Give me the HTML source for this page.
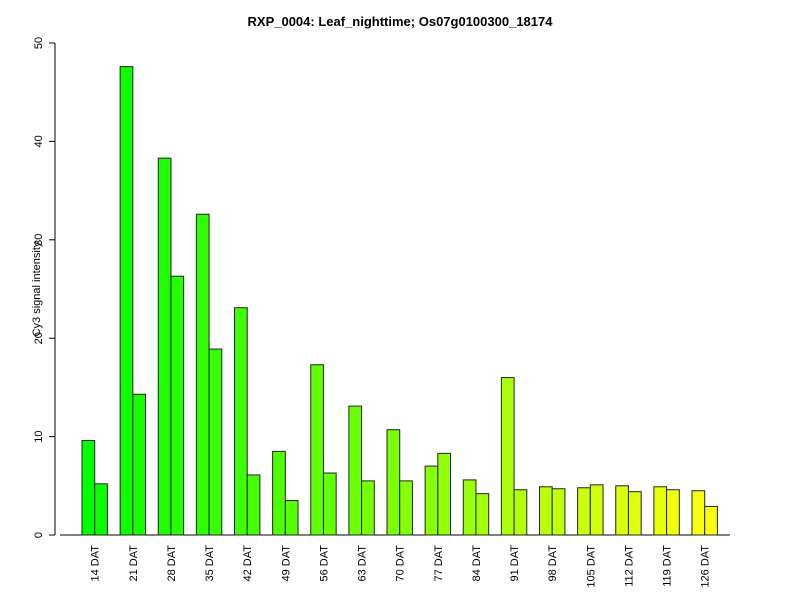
<!DOCTYPE html>
<html><head><meta charset="utf-8"><style>body{margin:0;background:#fff}svg{display:block;font-family:"Liberation Sans",sans-serif}</style></head>
<body>
<svg id="c" width="800" height="600">
<text x="400" y="26" text-anchor="middle" font-weight="bold" font-size="13">RXP_0004: Leaf_nighttime; Os07g0100300_18174</text>
<text transform="translate(40,289) rotate(-90)" text-anchor="middle" font-size="11">Cy3 signal intensity</text>
</svg>
<script>
const categories=["14 DAT","21 DAT","28 DAT","35 DAT","42 DAT","49 DAT","56 DAT","63 DAT","70 DAT","77 DAT","84 DAT","91 DAT","98 DAT","105 DAT","112 DAT","119 DAT","126 DAT"];
const series1=[9.6,47.6,38.3,32.6,23.1,8.5,17.3,13.1,10.7,7.0,5.6,16.0,4.9,4.8,5.0,4.9,4.5];
const series2=[5.2,14.3,26.3,18.9,6.1,3.5,6.3,5.5,5.5,8.3,4.2,4.6,4.7,5.1,4.4,4.6,2.9];
const yTicks=[0,10,20,30,40,50];
const svg=document.getElementById('c');const NS='http://www.w3.org/2000/svg';
function mk(t,a,p){const e=document.createElementNS(NS,t);for(const k in a)e.setAttribute(k,a[k]);(p||svg).appendChild(e);return e;}
const y0=535,y50=43;
function ys(v){return y0-(y0-y50)*v/50;}
const x0=82,step=38.125,w=step/3;
function xs(i,j){return x0+i*step+j*w;}
mk('line',{x1:60,x2:730,y1:y0,y2:y0,stroke:'#000'});
mk('line',{x1:55,x2:55,y1:ys(0),y2:ys(50),stroke:'#000'});
yTicks.forEach(t=>{
 const l=mk('line',{x1:49,x2:55,y1:ys(t),y2:ys(t),stroke:'#000'});
 
 
 const tx=mk('text',{transform:`translate(42,${ys(t)}) rotate(-90)`,'text-anchor':'middle','font-size':11});
 tx.textContent=t;
 
 
});
const n=categories.length*2;
categories.forEach((c,i)=>{
 [series1[i],series2[i]].forEach((v,j)=>{
  const k=i*2+j;const r=Math.round(k/(n-1)*255);
  const b=mk('rect',{x:xs(i,j),y:ys(v),width:w,height:y0-ys(v),fill:`rgb(${r},255,${Math.round(r*0.05)})`,stroke:'#222','stroke-width':1});
  
  
 });
 const tx=mk('text',{transform:`translate(${xs(i,1)+4},545) rotate(-90)`,'text-anchor':'end','font-size':11});
 tx.textContent=c;
 
 
});
</script>
</body></html>
